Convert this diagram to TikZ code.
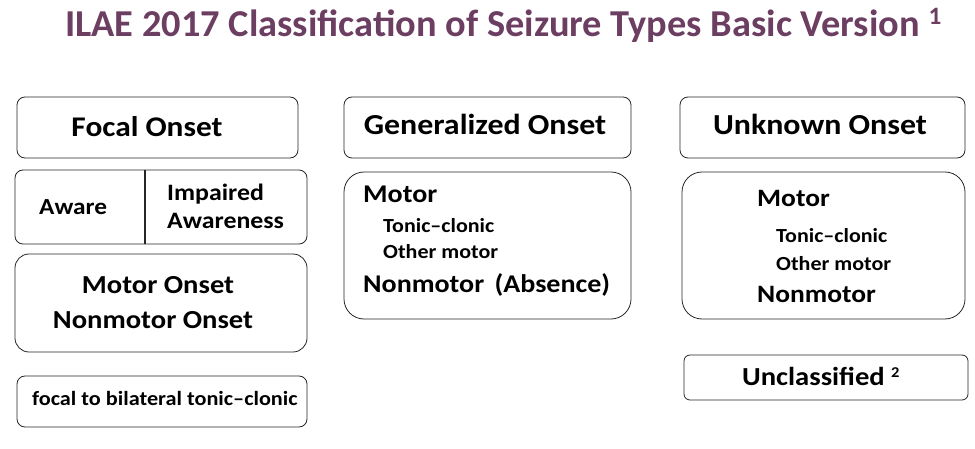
\documentclass[tikz,border=0pt]{standalone}
\usepackage{fontspec}
\setmainfont{Carlito}[FakeStretch=1.1]
\newfontfamily\titlefont{Carlito}[FakeStretch=1.01]
\usepackage{tikz}
\usetikzlibrary{positioning,calc}
\definecolor{titlepurple}{RGB}{108,62,98}
\newcommand{\fsz}[1]{\fontsize{#1}{#1}\selectfont\bfseries}

\begin{document}
\begin{tikzpicture}[x=1pt,y=-1pt,
  box/.style={draw=black!85,line width=0.8pt,rounded corners=8pt,inner sep=0pt},
  txt/.style={anchor=base west,inner sep=0pt},
  ctxt/.style={anchor=base,inner sep=0pt}]
  \useasboundingbox (0,0) rectangle (975,449);
  % title
  \node[txt,text=titlepurple] (title) at (65,37) {\titlefont\fsz{38}ILAE 2017 Classification of Seizure Types Basic Version~\raisebox{12pt}{\fsz{25}1}};

  % focal column
  \node[box,minimum width=281pt,minimum height=61pt] (focal) at (157.5,127.5) {};
  \node[ctxt] (focalt) at (147,136.7) {\fsz{28.5}Focal Onset};
  \node[box,minimum width=292pt,minimum height=74pt] (aware) at (161,207) {};
  \draw[line width=1.8pt,black!85] (aware.north -| 145,0) -- (aware.south -| 145,0); % divider
  \node[txt] (awaret) at (39,215) {\fsz{23}Aware};
  \node[txt] (impaired) at (167,201) {\fsz{23.5}Impaired};
  \node[txt] (awareness) at (167,229) {\fsz{23.5}Awareness};
  \node[box,rounded corners=14pt,minimum width=292pt,minimum height=98pt] (motoronset) at (161,303) {};
  \node[ctxt] (motoronsett) at (158,294) {\fsz{26}Motor Onset};
  \node[ctxt] (nonmotoronset) at (153,328) {\fsz{26}Nonmotor Onset};
  \node[box,minimum width=290pt,minimum height=51pt] (fbtc) at (162,401.5) {};
  \node[txt] (fbtct) at (32,405) {\fsz{20.2}focal to bilateral tonic--clonic};

  % generalized column
  \node[box,minimum width=287pt,minimum height=61pt] (gen) at (487.5,127.5) {};
  \node[ctxt] (gent) at (485,135) {\fsz{29}Generalized Onset};
  \node[box,rounded corners=20pt,minimum width=287pt,minimum height=147pt] (genmotor) at (487.5,245.5) {};
  \node[txt] (genmotort) at (363,203) {\fsz{25.5}Motor};
  \node[txt] (gentc) at (383,233) {\fsz{20}Tonic--clonic};
  \node[txt] (genother) at (383,259) {\fsz{20}Other motor};
  \node[txt] (gennonmotor) at (363,292) {\fsz{25.5}Nonmotor\hspace{4pt} (Absence)};

  % unknown column
  \node[box,minimum width=285pt,minimum height=61pt] (unk) at (822.5,127.5) {};
  \node[ctxt] (unkt) at (820,135) {\fsz{29}Unknown Onset};
  \node[box,rounded corners=20pt,minimum width=283pt,minimum height=147pt] (unkmotor) at (823.5,245.5) {};
  \node[txt] (unkmotort) at (757,207) {\fsz{25}Motor};
  \node[txt] (unktc) at (776,243) {\fsz{20}Tonic--clonic};
  \node[txt] (unkother) at (776,270) {\fsz{20}Other motor};
  \node[txt] (unknonmotor) at (757,302) {\fsz{25}Nonmotor};
  \node[box,rounded corners=6pt,minimum width=284pt,minimum height=45pt] (uncl) at (826,377.5) {};
  \node[txt] (unclt) at (742,385) {\fsz{26}Unclassified~\raisebox{8pt}{\fsz{15}2}};
\end{tikzpicture}
\end{document}
